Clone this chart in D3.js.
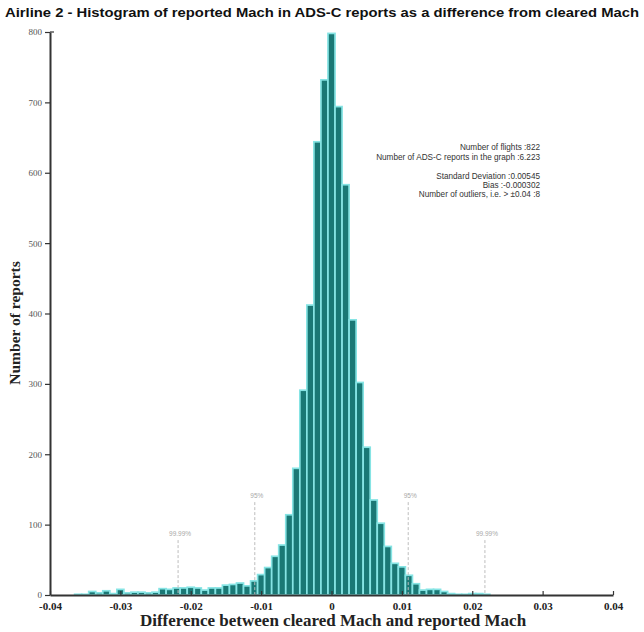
<!DOCTYPE html>
<html>
<head>
<meta charset="utf-8">
<script src="https://cdn.jsdelivr.net/npm/d3@7"></script>
<style>
  html, body { margin: 0; padding: 0; background: #fff; }
  svg { display: block; }
</style>
</head>
<body>
<svg id="chart" width="644" height="632"></svg>
<script>
// ---- data ----
const binCenters = [
  -0.040,-0.039,-0.038,-0.037,-0.036,-0.035,-0.034,-0.033,-0.032,-0.031,
  -0.030,-0.029,-0.028,-0.027,-0.026,-0.025,-0.024,-0.023,-0.022,-0.021,
  -0.020,-0.019,-0.018,-0.017,-0.016,-0.015,-0.014,-0.013,-0.012,-0.011,
  -0.010,-0.009,-0.008,-0.007,-0.006,-0.005,-0.004,-0.003,-0.002,-0.001,
   0.000, 0.001, 0.002, 0.003, 0.004, 0.005, 0.006, 0.007, 0.008, 0.009,
   0.010, 0.011, 0.012, 0.013, 0.014, 0.015, 0.016, 0.017, 0.018, 0.019,
   0.020, 0.021, 0.022, 0.023, 0.024, 0.025, 0.026, 0.027, 0.028, 0.029,
   0.030, 0.031, 0.032, 0.033, 0.034, 0.035, 0.036, 0.037, 0.038, 0.039,
   0.040
];
const counts = [
  0, 0, 0, 0, 1, 1, 5, 3, 6, 2,
  8, 3, 4, 4, 3, 4, 9, 8, 10, 10,
  11, 10, 7, 10, 10, 14, 15, 17, 13, 20,
  29, 39, 55, 71, 114, 180, 291, 412, 644, 732,
  798, 694, 583, 391, 302, 210, 135, 102, 69, 45,
  40, 28, 16, 7, 8, 8, 5, 2, 1, 1,
  2, 2, 1, 0, 0, 0, 0, 0, 0, 0,
  0, 0, 0, 0, 0, 0, 0, 0, 0, 0,
  0
];
const binWidth = 0.001;
const xTicks = [-0.04, -0.03, -0.02, -0.01, 0, 0.01, 0.02, 0.03, 0.04];
const yTicks = [0, 100, 200, 300, 400, 500, 600, 700, 800];
const pctValues = [-0.0218, -0.0109, 0.0109, 0.0218];
const pctLabels = ["99.99%", "95%", "95%", "99.99%"];
const statsLines = [
  "Number of flights :822",
  "Number of ADS-C reports in the graph :6.223",
  "",
  "Standard Deviation :0.00545",
  "Bias :-0.000302",
  "Number of outliers, i.e. > \u00B10.04 :8"
];
const titleText = "Airline 2 - Histogram of reported Mach in ADS-C reports as a difference from cleared Mach";
const xLabel = "Difference between cleared Mach and reported Mach";
const yLabel = "Number of reports";

// ---- layout ----
const L = 50, R = 613, T = 32, B = 595;
const svg = d3.select("#chart");

const x = d3.scaleLinear().domain([-0.04, 0.04]).range([L, R]);
const y = d3.scaleLinear().domain([0, 800]).range([B, T]);

// title
svg.append("text")
  .attr("x", 322).attr("y", 17)
  .attr("text-anchor", "middle")
  .attr("font-family", "'Liberation Sans', Arial, sans-serif")
  .attr("font-weight", "bold")
  .attr("font-size", 12.5)
  .attr("textLength", 634)
  .attr("lengthAdjust", "spacingAndGlyphs")
  .attr("fill", "#111")
  .text(titleText);

// bars
const bins = binCenters.map((c, i) => ({ c, v: counts[i] })).filter(d => d.v > 0);
svg.append("g").selectAll("rect").data(bins).join("rect")
  .attr("x", d => x(d.c - binWidth / 2))
  .attr("width", d => x(d.c + binWidth / 2) - x(d.c - binWidth / 2))
  .attr("y", d => y(d.v))
  .attr("height", d => B - y(d.v))
  .attr("fill", "#1a7875")
  .attr("stroke", "#86e4e4")
  .attr("stroke-width", 1.7);

// percentile dashed lines
const pctTop = { "95%": 132, "99.99%": 78 };
const pg = svg.append("g");
pctValues.forEach((v, i) => {
  const lab = pctLabels[i];
  pg.append("line")
    .attr("x1", x(v)).attr("x2", x(v))
    .attr("y1", y(pctTop[lab])).attr("y2", B)
    .attr("stroke", "#bdbdbd").attr("stroke-width", 1)
    .attr("stroke-dasharray", "3,2");
  pg.append("text")
    .attr("x", x(v) + 2).attr("y", y(pctTop[lab]) - 4)
    .attr("text-anchor", "middle")
    .attr("font-family", "'Liberation Sans', Arial, sans-serif")
    .attr("font-size", 6.5)
    .attr("fill", "#a8a8a8")
    .text(lab);
});

// axes
const xAxis = d3.axisBottom(x).tickValues(xTicks)
  .tickSizeInner(-4).tickSizeOuter(0).tickPadding(7)
  .tickFormat(d => d === 0 ? "0" : d.toFixed(2));
const gx = svg.append("g").attr("transform", `translate(0,${B})`).call(xAxis);
gx.select(".domain").attr("stroke", "#333").attr("stroke-width", 2);
gx.selectAll(".tick line").attr("stroke", "#333").attr("stroke-width", 1.2);
gx.selectAll(".tick text")
  .attr("font-family", "'Liberation Serif', 'Times New Roman', serif")
  .attr("font-weight", "bold")
  .attr("font-size", 11)
  .attr("fill", "#222");

const yAxis = d3.axisLeft(y).tickValues(yTicks)
  .tickSizeInner(5).tickSizeOuter(0).tickPadding(3);
const gy = svg.append("g").attr("transform", `translate(${L},0)`).call(yAxis);
gy.select(".domain").attr("stroke", "#333").attr("stroke-width", 2);
gy.selectAll(".tick line").attr("stroke", "#333").attr("stroke-width", 1.2);
gy.selectAll(".tick text")
  .attr("font-family", "'Liberation Serif', 'Times New Roman', serif")
  .attr("font-size", 9)
  .attr("fill", "#555");
svg.append("line").attr("x1", L).attr("x2", L + 4).attr("y1", y(800)).attr("y2", y(800))
  .attr("stroke", "#333").attr("stroke-width", 1.2);

// axis labels
svg.append("text")
  .attr("x", 333).attr("y", 626)
  .attr("text-anchor", "middle")
  .attr("font-family", "'Liberation Serif', 'Times New Roman', serif")
  .attr("font-weight", "bold")
  .attr("font-size", 17)
  .attr("fill", "#222")
  .text(xLabel);

svg.append("text")
  .attr("transform", "translate(20,323) rotate(-90)")
  .attr("text-anchor", "middle")
  .attr("font-family", "'Liberation Serif', 'Times New Roman', serif")
  .attr("font-weight", "bold")
  .attr("font-size", 15.5)
  .attr("fill", "#222")
  .text(yLabel);

// stats text
const st = svg.append("g");
const statY = [150, 160, 170, 179, 188, 197];
statsLines.forEach((s, i) => {
  if (!s) return;
  st.append("text")
    .attr("x", 540).attr("y", statY[i])
    .attr("text-anchor", "end")
    .attr("font-family", "'Liberation Sans', Arial, sans-serif")
    .attr("font-size", 8.2)
    .attr("fill", "#333")
    .text(s);
});
</script>
</body>
</html>
